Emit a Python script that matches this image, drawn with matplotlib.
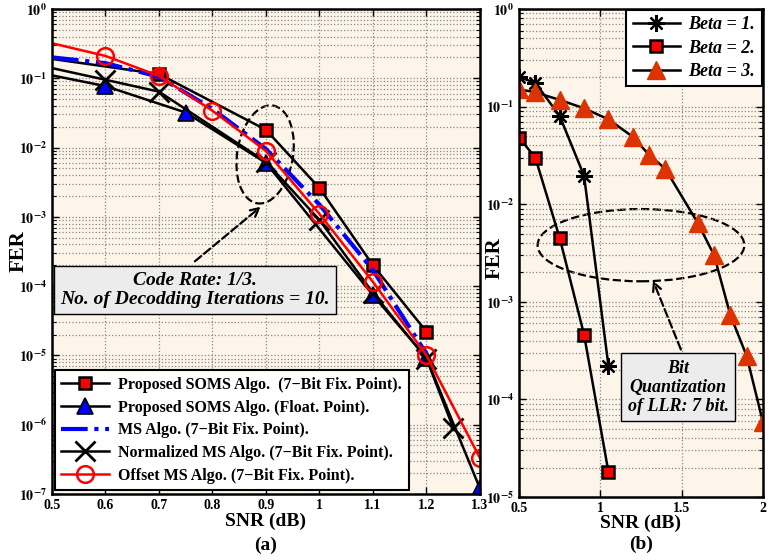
import numpy as np
import matplotlib
matplotlib.use("Agg")
import matplotlib.pyplot as plt
from matplotlib.patches import Ellipse
from matplotlib.ticker import FixedLocator, FuncFormatter, LogLocator, NullFormatter

plt.rcParams['font.family'] = ['Liberation Serif', 'DejaVu Serif']
plt.rcParams['font.weight'] = 'bold'
plt.rcParams['mathtext.fontset'] = 'stix'

# ---- panel (a) data ----
snr_soms_fix = [0.5, 0.7, 0.9, 1.0, 1.1, 1.2]
fer_soms_fix = [0.19, 0.115, 0.018, 0.0026, 2.0e-4, 2.2e-5]

snr_soms_float = [0.5, 0.6, 0.75, 0.9, 1.1, 1.2, 1.3]
fer_soms_float = [0.11, 0.077, 0.032, 0.006, 7.4e-5, 9.2e-6, 1.2e-7]

snr_ms = [0.5, 0.6, 0.7, 0.8, 0.9, 1.0, 1.1, 1.2]
fer_ms = [0.2, 0.165, 0.105, 0.036, 0.0095, 0.0015, 1.7e-4, 1.05e-5]

snr_nms = [0.5, 0.6, 0.7, 0.9, 1.0, 1.1, 1.2, 1.25]
fer_nms = [0.14, 0.095, 0.064, 0.0062, 9.0e-4, 8.0e-5, 9.0e-6, 9.0e-7]

snr_oms = [0.5, 0.6, 0.7, 0.8, 0.9, 1.0, 1.1, 1.2, 1.3]
fer_oms = [0.32, 0.21, 0.108, 0.034, 0.0089, 0.0011, 1.15e-4, 1.0e-5, 3.3e-7]

labels_a = ['Proposed SOMS Algo.  (7\u2212Bit Fix. Point).',
            'Proposed SOMS Algo. (Float. Point).',
            'MS Algo. (7\u2212Bit Fix. Point).',
            'Normalized MS Algo. (7\u2212Bit Fix. Point).',
            'Offset MS Algo. (7\u2212Bit Fix. Point).']

# ---- panel (b) data ----
snr_b1 = [0.5, 0.6, 0.75, 0.9, 1.05]
fer_b1 = [0.2, 0.175, 0.08, 0.0195, 2.2e-4]

snr_b2 = [0.5, 0.6, 0.75, 0.9, 1.05]
fer_b2 = [0.048, 0.03, 0.0045, 4.6e-4, 1.8e-5]

snr_b3 = [0.5, 0.6, 0.75, 0.9, 1.05, 1.2, 1.3, 1.4, 1.6, 1.7, 1.8, 1.9, 2.0]
fer_b3 = [0.15, 0.14, 0.117, 0.096, 0.074, 0.049, 0.032, 0.023, 0.0064, 0.003, 7.3e-4, 2.8e-4, 5.9e-5]

labels_b = ['Beta = 1.', 'Beta = 2.', 'Beta = 3.']

bg = '#fdf5e9'
orange = '#dd3300'


def decade_fmt(v, pos):
    return r'$\mathbf{10^{%d}}$' % int(round(np.log10(v)))


def style_axes(ax, xticks):
    ax.set_facecolor(bg)
    ax.set_yscale('log')
    ax.xaxis.set_major_locator(FixedLocator(xticks))
    ax.xaxis.set_major_formatter(FuncFormatter(lambda v, p: '%g' % v))
    ax.yaxis.set_major_locator(LogLocator(base=10, numticks=20))
    ax.yaxis.set_minor_locator(LogLocator(base=10, subs=np.arange(2, 10), numticks=20))
    ax.yaxis.set_major_formatter(FuncFormatter(decade_fmt))
    ax.yaxis.set_minor_formatter(NullFormatter())
    ax.tick_params(which='both', direction='in', top=True, right=True, labelsize=10)
    ax.tick_params(which='major', length=5, width=1)
    ax.tick_params(which='minor', length=3, width=0.8)
    ax.grid(True, which='major', axis='x', ls=':', color='#888888', lw=0.9)
    ax.grid(True, which='both', axis='y', ls=':', color='#888888', lw=0.9)
    for s in ax.spines.values():
        s.set_linewidth(1.8)
    for lab in ax.get_xticklabels() + ax.get_yticklabels():
        lab.set_fontweight('bold')


fig = plt.figure(figsize=(7.69, 5.6), dpi=100)
ax1 = fig.add_axes([0.0676, 0.118, 0.5565, 0.866])
ax2 = fig.add_axes([0.675, 0.1125, 0.317, 0.8715])

# ---- panel (a) ----
ax1.plot(snr_soms_fix, fer_soms_fix, '-s', color='black', lw=1.8, ms=9,
         mfc='red', mec='black', mew=1.8, markevery=list(range(1, len(snr_soms_fix))), label=labels_a[0])
ax1.plot(snr_soms_float, fer_soms_float, '-^', color='black', lw=1.8, ms=11,
         mfc='blue', mec='black', mew=1.2, markevery=list(range(1, len(snr_soms_float))), label=labels_a[1])
ax1.plot(snr_ms, fer_ms, '-.', color='blue', lw=3, label=labels_a[2])
ax1.plot(snr_nms, fer_nms, '-x', color='black', lw=1.8, ms=14, mew=2,
         markevery=list(range(1, len(snr_nms))), label=labels_a[3])
ax1.plot(snr_oms, fer_oms, '-o', color='red', lw=1.8, ms=12, mfc='none', mec='red', mew=1.8,
         markevery=list(range(1, len(snr_oms))), label=labels_a[4])

ax1.set_xlim(0.5, 1.3)
ax1.set_ylim(1e-7, 1)
style_axes(ax1, [0.5, 0.6, 0.7, 0.8, 0.9, 1.0, 1.1, 1.2, 1.3])
ax1.set_ylabel('FER', fontsize=15, fontweight='bold')
ax1.yaxis.set_label_coords(-0.055, 0.5)
ax1.set_xlabel('SNR (dB)', fontsize=14, fontweight='bold', labelpad=1)
fig.text((52 + 480) / 2 / 769, 1 - 545 / 560, '(a)', ha='center', va='center',
         fontsize=14, fontweight='bold')

leg1 = ax1.legend(loc='lower left', bbox_to_anchor=(0.006, 0.008), borderaxespad=0,
                  fancybox=False, edgecolor='black', framealpha=1, fontsize=11.5,
                  handlelength=3.0, labelspacing=0.42, borderpad=0.4, handletextpad=0.6)
leg1.get_frame().set_linewidth(1.5)
for t in leg1.get_texts():
    t.set_fontweight('bold')

ax1.add_patch(Ellipse((0.498, 0.70), 0.13, 0.205, angle=-12, transform=ax1.transAxes,
                      fill=False, ls='--', lw=1.6, ec='black'))
ax1.annotate('', xy=(0.493, 0.596), xytext=(0.329, 0.476), xycoords='axes fraction',
             arrowprops=dict(arrowstyle='->', ls='--', lw=1.6, color='black', mutation_scale=15))
ax1.text(0.334, 0.421, 'Code Rate: 1/3.\nNo. of Decodding Iterations = 10.', transform=ax1.transAxes,
         ha='center', va='center', fontsize=14, fontstyle='italic', fontweight='bold', linespacing=1.15,
         bbox=dict(boxstyle='square,pad=0.3', fc='#ececec', ec='black', lw=1.0))

# ---- panel (b) ----
ax2.plot(snr_b1, fer_b1, '-', color='black', lw=1.8, marker=(8, 2, 0), ms=12, mew=1.6,
         label=labels_b[0])
ax2.plot(snr_b2, fer_b2, '-s', color='black', lw=1.8, ms=9, mfc='red', mec='black', mew=1.8,
         label=labels_b[1])
ax2.plot(snr_b3, fer_b3, '-^', color='black', lw=1.8, ms=13, mfc=orange, mec=orange, label=labels_b[2])

ax2.set_xlim(0.5, 2.0)
ax2.set_ylim(1e-5, 1)
style_axes(ax2, [0.5, 1.0, 1.5, 2.0])
ax2.set_ylabel('FER', fontsize=15, fontweight='bold')
ax2.yaxis.set_label_coords(-0.06, 0.49)
ax2.set_xlabel('SNR (dB)', fontsize=14, fontweight='bold', labelpad=0)
fig.text((519 + 763) / 2 / 769, 1 - 544 / 560, '(b)', ha='center', va='center',
         fontsize=14, fontweight='bold')

leg2 = ax2.legend(loc='upper right', bbox_to_anchor=(0.995, 0.998), borderaxespad=0,
                  fancybox=False, edgecolor='black', framealpha=1, fontsize=13,
                  handlelength=2.6, labelspacing=0.35, borderpad=0.35, handletextpad=0.5)
leg2.get_frame().set_linewidth(1.5)
for t in leg2.get_texts():
    t.set_fontweight('bold')
    t.set_fontstyle('italic')

ax2.add_patch(Ellipse((0.5, 0.516), 0.848, 0.148, transform=ax2.transAxes,
                      fill=False, ls='--', lw=1.6, ec='black'))
ax2.annotate('', xy=(0.545, 0.449), xytext=(0.668, 0.297), xycoords='axes fraction',
             arrowprops=dict(arrowstyle='->', ls='--', lw=1.6, color='black', mutation_scale=15))
ax2.text(0.652, 0.225, 'Bit\nQuantization\nof LLR: 7 bit.', transform=ax2.transAxes,
         ha='center', va='center', fontsize=13, fontstyle='italic', fontweight='bold', linespacing=1.15,
         bbox=dict(boxstyle='square,pad=0.35', fc='#ececec', ec='black', lw=1.0))

fig.savefig('out.png', dpi=100)
